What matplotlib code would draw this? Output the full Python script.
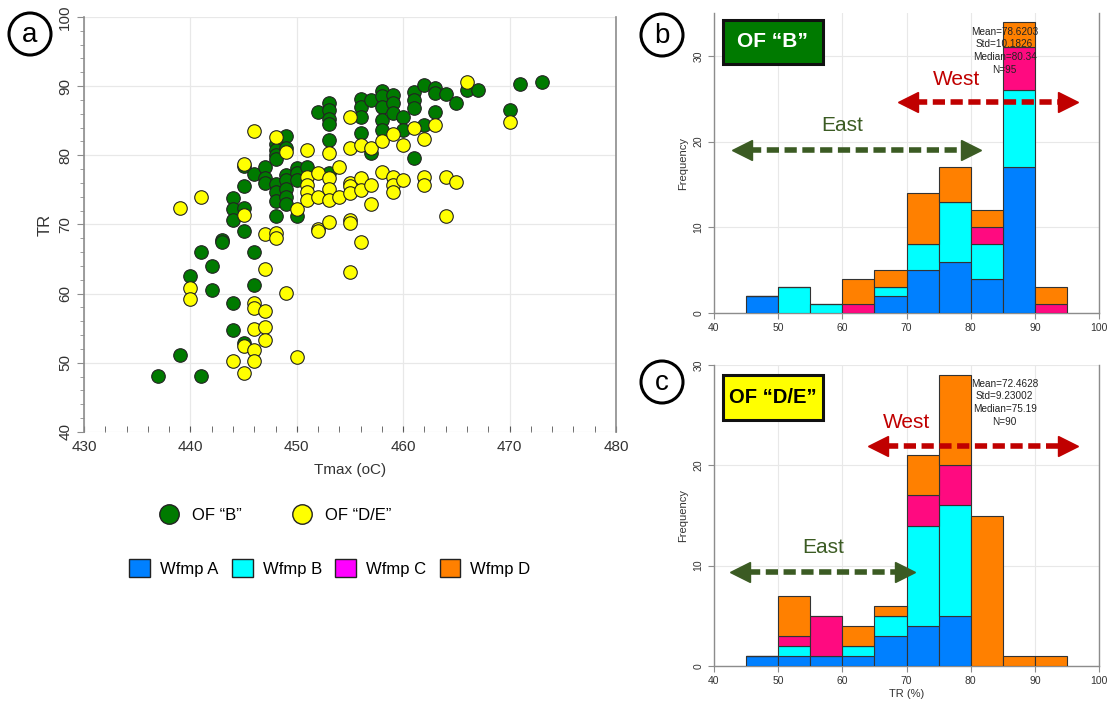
import matplotlib.pyplot as plt
from matplotlib.lines import Line2D
from matplotlib.patches import Ellipse, Patch, Rectangle
import numpy as np

plt.rcParams['font.family'] = ['Liberation Sans', 'DejaVu Sans']

# ---- scatter data: (Tmax, TR) ----
green_tmax = [437, 439, 440, 441, 441, 442, 442, 443, 443,
              444, 444, 444, 444, 444, 445, 445, 445, 445, 445,
              446, 446, 446, 447, 447, 447,
              448, 448, 448, 448, 448, 448, 448, 448,
              449, 449, 449, 449, 449, 449, 449,
              450, 450, 450, 450, 451, 452,
              453, 453, 453, 453, 453, 453,
              456, 456, 456, 456, 457, 457,
              458, 458, 458, 458, 458, 459, 459, 459, 460, 460,
              461, 461, 461, 461, 462, 462, 463, 463, 463,
              464, 465, 466, 467, 470, 471, 473]
green_tr = [48.1, 51.2, 62.5, 66.0, 48.1, 64.0, 60.6, 67.8, 67.5,
            73.9, 72.2, 70.7, 58.7, 54.7, 78.4, 75.5, 72.4, 69.1, 52.8,
            77.3, 66.0, 61.3, 78.3, 76.7, 76.0,
            81.7, 80.8, 80.1, 79.4, 75.8, 74.7, 73.4, 71.3,
            82.8, 81.1, 77.1, 76.4, 75.1, 74.0, 73.0,
            78.1, 77.4, 76.5, 71.2, 78.3, 86.2,
            87.5, 86.5, 85.2, 84.6, 82.2, 77.5,
            88.1, 87.0, 85.5, 83.3, 88.0, 80.4,
            89.3, 88.6, 87.0, 85.1, 83.6, 88.7, 87.6, 86.1, 85.5, 83.7,
            89.2, 88.0, 86.8, 79.6, 90.1, 84.4, 89.8, 89.0, 86.3,
            88.9, 87.5, 89.5, 89.5, 86.6, 90.3, 90.6]

yellow_tmax = [439, 440, 440, 441, 444, 445, 445, 445, 445,
               446, 446, 446, 446, 446, 446, 447, 447, 447, 447, 447,
               448, 448, 448, 449, 449, 450, 450,
               451, 451, 451, 451, 451, 452, 452, 452, 452,
               453, 453, 453, 453, 453, 454, 454,
               455, 455, 455, 455, 455, 455, 455, 455,
               456, 456, 456, 456, 457, 457, 457, 458, 458,
               459, 459, 459, 459, 460, 460, 461, 462, 462, 462,
               463, 464, 464, 465, 466, 470]
yellow_tr = [72.4, 60.8, 59.2, 74.0, 50.2, 78.7, 71.4, 52.4, 48.5,
             83.5, 58.7, 57.9, 54.9, 51.8, 50.2, 68.6, 63.6, 57.5, 55.2, 53.3,
             82.6, 68.8, 68.0, 80.5, 60.1, 72.2, 50.8,
             80.7, 76.9, 75.7, 74.7, 73.5, 77.5, 74.0, 69.3, 69.1,
             80.3, 76.7, 75.2, 73.5, 70.4, 78.3, 74.0,
             85.6, 81.1, 76.0, 75.5, 74.5, 70.7, 70.2, 63.2,
             81.5, 76.7, 75.0, 67.5, 81.1, 75.7, 73.0, 82.0, 77.6,
             83.1, 76.9, 75.7, 74.7, 81.5, 76.4, 83.9, 82.3, 76.9, 75.7,
             84.4, 76.9, 71.2, 76.1, 90.6, 84.8]

# ---- histogram data (bins of 5 % TR), counts per Wfmp ----
bin_left = [45, 50, 55, 60, 65, 70, 75, 80, 85, 90]
wfmp_names = ['Wfmp A', 'Wfmp B', 'Wfmp C', 'Wfmp D']
b_counts = {
    'Wfmp A': [2, 0, 0, 0, 2, 5, 6, 4, 17, 0],
    'Wfmp B': [0, 3, 1, 0, 1, 3, 7, 4, 9, 0],
    'Wfmp C': [0, 0, 0, 1, 0, 0, 0, 2, 5, 1],
    'Wfmp D': [0, 0, 0, 3, 2, 6, 4, 2, 3, 2],
}
de_counts = {
    'Wfmp A': [1, 1, 1, 1, 3, 4, 5, 0, 0, 0],
    'Wfmp B': [0, 1, 0, 1, 2, 10, 11, 0, 0, 0],
    'Wfmp C': [0, 1, 4, 0, 0, 3, 4, 0, 0, 0],
    'Wfmp D': [0, 4, 0, 2, 1, 4, 9, 15, 1, 1],
}
b_stats = "Mean=78.6203\nStd=10.1826\nMedian=80.34\nN=95"
de_stats = "Mean=72.4628\nStd=9.23002\nMedian=75.19\nN=90"

bar_colors = {'Wfmp A': '#0080FF', 'Wfmp B': '#00FFFF',
              'Wfmp C': '#FF0A80', 'Wfmp D': '#FF8000'}
legend_colors = {'Wfmp A': '#0080FF', 'Wfmp B': '#00FFFF',
                 'Wfmp C': '#FF00FF', 'Wfmp D': '#FF8000'}
green = '#007A00'
yellow = '#FFFF00'
red = '#C00000'
east_col = '#3B5B23'
spine_col = '#8c8c8c'
grid_col = '#e8e8e8'

fig = plt.figure(figsize=(11.1, 7.02), dpi=100)

# ---- panel a: scatter ----
ax = fig.add_axes([84 / 1110, 1 - 432 / 702, 532 / 1110, 415 / 702])
ax.scatter(green_tmax, green_tr, s=95, c=green, edgecolors='#222222',
           linewidths=0.8, zorder=3)
ax.scatter(yellow_tmax, yellow_tr, s=95, c=yellow, edgecolors='#222222',
           linewidths=0.8, zorder=3)
ax.set_xlim(430, 480)
ax.set_ylim(40, 100)
ax.set_xticks(np.arange(430, 481, 10))
ax.set_xticks(np.arange(430, 481, 2), minor=True)
ax.set_yticks(np.arange(40, 101, 10))
ax.set_yticks(np.arange(40, 101, 2), minor=True)
ax.grid(True, which='major', color=grid_col, lw=0.9, zorder=0)
for s in ['top', 'bottom']:
    ax.spines[s].set_visible(False)
for s in ['left', 'right']:
    ax.spines[s].set_color(spine_col)
    ax.spines[s].set_linewidth(1.2)
ax.tick_params(axis='y', which='both', direction='out', colors=spine_col,
               labelcolor='#333333', labelsize=11, labelrotation=90)
ax.tick_params(axis='y', which='major', length=5)
ax.tick_params(axis='y', which='minor', length=3)
ax.tick_params(axis='x', which='both', direction='in', colors='#555555',
               labelcolor='#333333', labelsize=11, length=4, pad=6)
for lab in ax.get_yticklabels():
    lab.set_va('center')
ax.set_xlabel('Tmax (oC)', fontsize=11, color='#333333', labelpad=6)
ax.set_ylabel('TR', fontsize=12, color='#333333', labelpad=4)


def draw_arrow(axh, x0, x1, y, color):
    axh.plot([x0 + 1.2, x1 - 1.2], [y, y], color=color, lw=4,
             ls=(0, (2.2, 1.0)), solid_capstyle='butt', zorder=5)
    axh.plot([x0], [y], marker='<', ms=14, color=color, mec=color, zorder=5)
    axh.plot([x1], [y], marker='>', ms=14, color=color, mec=color, zorder=5)


def hist_panel(rect, counts, ymax, yticks, stats, label, box_fc, txt_col,
               box_y, label_size, west, east, show_xlabel):
    axh = fig.add_axes(rect)
    bottom = np.zeros(len(bin_left))
    for name in wfmp_names:
        vals = np.array(counts[name])
        axh.bar(bin_left, vals, width=5, bottom=bottom, align='edge',
                color=bar_colors[name], edgecolor='#333333', lw=0.8, zorder=3)
        bottom += vals
    axh.set_xlim(40, 100)
    axh.set_ylim(0, ymax)
    axh.set_xticks(np.arange(40, 101, 10))
    axh.set_yticks(yticks)
    axh.grid(True, color=grid_col, lw=0.8, zorder=0)
    axh.spines['top'].set_visible(False)
    for s in ['left', 'right', 'bottom']:
        axh.spines[s].set_color(spine_col)
        axh.spines[s].set_linewidth(1.0)
    axh.tick_params(colors=spine_col, labelcolor='#333333', labelsize=7.5,
                    length=4)
    axh.tick_params(axis='y', labelrotation=90)
    for lab in axh.get_yticklabels():
        lab.set_va('center')
    axh.set_ylabel('Frequency', fontsize=8, color='#333333')
    if show_xlabel:
        axh.set_xlabel('TR (%)', fontsize=8, color='#333333', labelpad=2)
    # label box
    axh.add_patch(Rectangle((0.023, box_y[0]), 0.26, box_y[1] - box_y[0],
                            transform=axh.transAxes, fc=box_fc, ec='#111111',
                            lw=2.2, zorder=6, clip_on=False))
    axh.text(0.153, (box_y[0] + box_y[1]) / 2, label, transform=axh.transAxes,
             ha='center', va='center', fontsize=label_size, fontweight='bold',
             color=txt_col, zorder=7)
    axh.text(0.755, 0.955, stats, transform=axh.transAxes, ha='center',
             va='top', fontsize=7.2, color='#222222', linespacing=1.35,
             zorder=6)
    # West / East ranges
    draw_arrow(axh, west[0], west[1], west[2], red)
    axh.text(west[3], west[4], 'West', ha='center', va='center',
             fontsize=15, color=red, zorder=6)
    draw_arrow(axh, east[0], east[1], east[2], east_col)
    axh.text(east[3], east[4], 'East', ha='center', va='center',
             fontsize=15, color=east_col, zorder=6)
    return axh


hist_panel([714 / 1110, 1 - 313 / 702, 385 / 1110, 300 / 702], b_counts, 35,
           [0, 10, 20, 30], b_stats, 'OF \u201cB\u201d', green, 'white',
           (0.83, 0.977), 15,
           (70.2, 95.2, 24.6, 77.8, 27.2), (44.3, 80.0, 19.0, 60.0, 21.9),
           False)
hist_panel([714 / 1110, 1 - 666 / 702, 385 / 1110, 301 / 702], de_counts, 30,
           [0, 10, 20, 30], de_stats, 'OF \u201cD/E\u201d', yellow, 'black',
           (0.817, 0.967), 14.5,
           (65.6, 95.2, 21.9, 70.0, 24.3), (44.1, 69.8, 9.4, 57.0, 11.8),
           True)

# ---- panel letters ----
for cx, cy, letter in [(30, 34, 'a'), (662, 35, 'b'), (662, 382, 'c')]:
    fig.patches.append(Ellipse((cx / 1110, 1 - cy / 702), 42 / 1110, 42 / 702,
                               transform=fig.transFigure, fc='white',
                               ec='black', lw=2.2, zorder=10))
    fig.text(cx / 1110, 1 - (cy + 1) / 702, letter, ha='center', va='center',
             fontsize=20, zorder=11)

# ---- legends ----
of_handles = [
    Line2D([], [], marker='o', ls='none', ms=14, mfc=green, mec='#222222',
           mew=1.0, label='OF \u201cB\u201d'),
    Line2D([], [], marker='o', ls='none', ms=14, mfc=yellow, mec='#222222',
           mew=1.0, label='OF \u201cD/E\u201d'),
]
fig.legend(handles=of_handles, loc='center', ncol=2, frameon=False,
           fontsize=12, bbox_to_anchor=(272 / 1110, 1 - 515 / 702),
           handletextpad=0.4, columnspacing=2.6)
w_handles = [Patch(fc=legend_colors[n], ec='#222222', lw=1.0, label=n)
             for n in wfmp_names]
fig.legend(handles=w_handles, loc='center', ncol=4, frameon=False,
           fontsize=12, bbox_to_anchor=(330 / 1110, 1 - 568 / 702),
           handlelength=1.25, handleheight=1.25, handletextpad=0.6,
           columnspacing=0.8)

fig.savefig('out.png', dpi=100)
